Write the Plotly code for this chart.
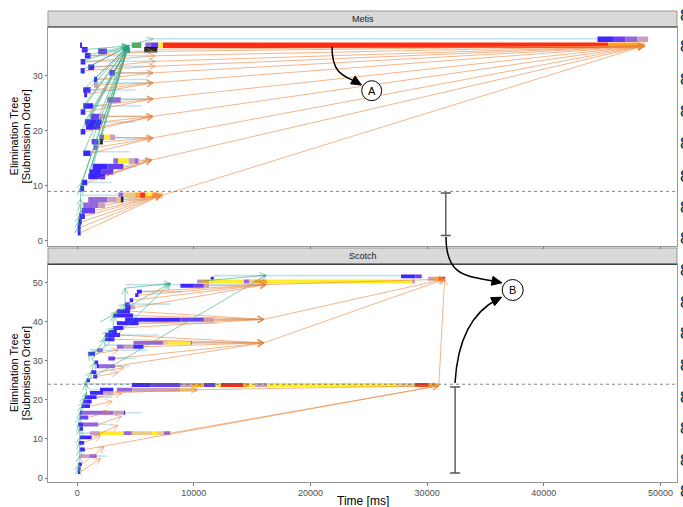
import math
import plotly.graph_objects as go

FONT = "Liberation Sans, Arial, sans-serif"

# ---------------------------------------------------------------- data
X_TICKS = [0, 10000, 20000, 30000, 40000, 50000]
Y_TICKS_METIS = [0, 10, 20, 30]
Y_TICKS_SCOTCH = [0, 10, 20, 30, 40, 50]

# fill colour for each activity level of a task tile
LEVEL_COLORS = ["#2d14ff", "#5b30ee", "#8c5ada", "#c497b4", "#e7c67f",
                "#ffea1c", "#ff9d0a", "#ff1a00", "#46a84f", "#111111"]

# Metis tasks: (tree node, start ms, end ms, level)
metis_tiles = [
    (36.6, 44600, 46000, 0), (36.6, 46000, 47000, 1), (36.6, 47000, 48000, 2), (36.6, 48000, 48950, 3),
    (35.5, 4690, 5500, 8), (35.5, 5840, 6300, 2), (35.5, 6300, 6960, 1), (35.5, 6960, 7360, 5),
    (35.5, 7360, 45500, 7), (35.5, 45500, 48000, 6), (35.5, 48000, 48700, 4),
    (34.7, 5750, 6870, 9),
    (35.5, 250, 420, 0), (34.7, 400, 900, 0), (34.4, 1800, 2560, 1), (33.6, 660, 1150, 0),
    (32.5, 300, 700, 0), (31.5, 950, 1460, 0), (30.9, 300, 650, 0), (30.5, 2760, 3250, 1),
    (29.3, 1440, 1720, 0), (28.3, 1440, 1800, 3), (27.4, 520, 1150, 0), (26.6, 600, 850, 0),
    (25.6, 2590, 3740, 2), (24.5, 520, 1380, 0), (23.4, 300, 700, 0),
    (22.6, 1150, 1900, 1), (22.6, 1900, 2390, 3), (21.6, 660, 2100, 0), (20.7, 750, 1960, 0),
    (19.8, 300, 700, 0), (18.8, 1900, 2300, 2), (18.8, 2300, 2800, 5), (18.8, 2800, 3250, 3),
    (18.0, 1240, 1810, 1), (18.0, 1950, 2200, 9), (17.0, 1400, 1750, 2), (15.9, 520, 1150, 0),
    (14.5, 3100, 3500, 2), (14.5, 3500, 4400, 5), (14.5, 4400, 4900, 3), (14.5, 4900, 5260, 2),
    (13.5, 1330, 2600, 0), (13.5, 2600, 3970, 1), (12.5, 1030, 2100, 0), (12.5, 2100, 3100, 1),
    (11.7, 950, 2390, 0), (10.6, 380, 860, 0), (9.5, 250, 600, 0),
    (8.3, 3540, 3970, 2), (8.3, 3970, 4970, 4), (8.3, 4970, 5400, 6), (8.3, 5400, 5840, 7),
    (8.3, 5840, 6410, 5), (8.3, 6410, 6900, 6), (8.3, 6900, 7360, 4),
    (7.5, 950, 2600, 2), (7.5, 2600, 3400, 3), (7.5, 3400, 3800, 4), (7.5, 3750, 3970, 9),
    (6.5, 520, 1800, 2), (6.5, 1800, 2390, 3), (5.5, 380, 1530, 1),
    (4.5, 170, 660, 0), (3.5, 100, 400, 0), (2.5, 50, 300, 0), (1.5, 50, 300, 0),
]

# Metis idle spans: (tree node, from ms, to ms)
metis_waits = [
    (36.7, 6500, 44600), (34.4, 2560, 6500), (33.6, 1150, 6700), (32.6, 700, 6700),
    (31.7, 1460, 6700), (30.5, 3250, 6500), (29.3, 1720, 6000), (28.7, 1800, 6500),
    (27.4, 1150, 5000), (25.8, 3740, 6500), (24.5, 1380, 5500), (22.6, 2390, 6500),
    (21.6, 2100, 5000), (18.7, 3250, 6500), (16.2, 1150, 4500), (14.7, 5260, 6400),
    (13.5, 3970, 5000), (10.6, 860, 3000), (8.3, 300, 3540), (7.5, 3970, 6000),
]

# Metis data dependencies: (from ms, from node, to ms, to node)
metis_deps = [
    (6500, 34.4, 48600, 35.4), (6700, 33.6, 48600, 35.4), (6700, 32.6, 48600, 35.4),
    (6700, 31.7, 48600, 35.4), (6500, 30.5, 48600, 35.4), (6500, 28.7, 48600, 35.4),
    (6500, 25.8, 48600, 35.4), (6500, 22.6, 48600, 35.4), (6500, 18.7, 48600, 35.4),
    (6400, 14.7, 48600, 35.4), (7300, 8.3, 48600, 35.4), (6900, 34.8, 48600, 35.4),
    (1150, 33.6, 6500, 34.4), (700, 32.5, 6700, 33.6), (1460, 31.5, 6700, 32.6),
    (650, 30.9, 6700, 31.7), (3250, 30.5, 6500, 30.5), (1720, 29.3, 6500, 30.5),
    (1800, 28.3, 6500, 28.7), (1150, 27.4, 6500, 28.7), (850, 26.6, 6500, 28.7),
    (3740, 25.6, 6500, 25.8), (1380, 24.5, 6500, 25.8), (700, 23.4, 6500, 25.8),
    (2390, 22.6, 6500, 22.6), (2100, 21.6, 6500, 22.6), (1960, 20.7, 6500, 22.6), (700, 19.8, 6500, 22.6),
    (3250, 18.8, 6500, 18.7), (2200, 18.0, 6500, 18.7), (1750, 17.0, 6500, 18.7), (1150, 15.9, 6500, 18.7),
    (5260, 14.5, 6400, 14.7), (3970, 13.5, 6400, 14.7), (3100, 12.5, 6400, 14.7),
    (2390, 11.7, 6400, 14.7), (860, 10.6, 6400, 14.7),
    (3970, 7.5, 7200, 8.3), (2390, 6.5, 7200, 8.3), (1530, 5.5, 7200, 8.3), (660, 4.5, 7200, 8.3),
    (400, 3.5, 7200, 8.3), (300, 2.5, 7200, 8.3), (300, 1.5, 7200, 8.3),
]

# Metis submission order links: (from ms, from node, to ms, to node)
metis_subs = [
    (400, 34.7, 4400, 35.4), (660, 33.6, 4400, 35.4), (300, 32.5, 4400, 35.4), (950, 31.5, 4400, 35.4),
    (300, 30.9, 4400, 35.4), (1440, 29.3, 4400, 35.4), (520, 27.4, 4400, 35.4), (600, 26.6, 4400, 35.4),
    (520, 24.5, 4400, 35.4), (300, 23.4, 4400, 35.4), (1150, 22.6, 4400, 35.4), (660, 21.6, 4400, 35.4),
    (750, 20.7, 4400, 35.4), (300, 19.8, 4400, 35.4), (1240, 18.0, 4400, 35.4), (520, 15.9, 4400, 35.4),
    (1330, 13.5, 4400, 35.4), (1030, 12.5, 4400, 35.4), (950, 11.7, 4400, 35.4), (380, 10.6, 4400, 35.4),
    (250, 9.5, 4400, 35.4), (4400, 35.4, 6500, 36.7),
    (50, 1.5, 50, 2.5), (50, 2.5, 100, 3.5), (100, 3.5, 170, 4.5), (170, 4.5, 300, 5.5),
    (300, 5.5, 250, 6.6), (250, 6.6, 300, 7.6), (300, 7.6, 250, 9.5), (250, 9.5, 380, 10.6),
]

# Scotch tasks: (tree node, start ms, end ms, level)
scotch_tiles = [
    (51.6, 27760, 29000, 0), (51.6, 29000, 29540, 1),
    (51.0, 30060, 30500, 3), (51.0, 30500, 31000, 6), (51.0, 31000, 31550, 7),
    (50.3, 10290, 10720, 3), (50.3, 10720, 11300, 6), (50.3, 11300, 14300, 5), (50.3, 14300, 14740, 2),
    (50.3, 14740, 15170, 4), (50.3, 15170, 16270, 6), (50.3, 16270, 28680, 5), (50.3, 28680, 28970, 3),
    (51.0, 11440, 11720, 0),
    (49.2, 8850, 10000, 0), (49.2, 10000, 10860, 1), (49.2, 10860, 11300, 3),
    (47.7, 5120, 5550, 0), (46.8, 4970, 5260, 0), (45.5, 4500, 4800, 0), (44.5, 4100, 4500, 1),
    (43.7, 4110, 4600, 0), (43.7, 4600, 4970, 3), (42.7, 3400, 4540, 0), (41.6, 3100, 4800, 0),
    (40.5, 4110, 8850, 0), (40.5, 8850, 10860, 1), (40.5, 10860, 11720, 3),
    (39.6, 3400, 5260, 0), (38.4, 3100, 3970, 0), (37.4, 2700, 3400, 0), (36.6, 2400, 3680, 0),
    (35.5, 2400, 3200, 0),
    (34.6, 4830, 7410, 2), (34.6, 7410, 7840, 4), (34.6, 7840, 9720, 5), (34.6, 9720, 9860, 2),
    (33.6, 3400, 4000, 2), (33.6, 4000, 4800, 3), (33.6, 4800, 5690, 0),
    (32.7, 1700, 2200, 2), (31.8, 950, 1530, 0), (30.6, 2670, 3250, 1), (29.6, 1500, 1800, 0),
    (28.6, 1670, 1900, 0), (28.6, 1900, 3250, 2), (27.1, 1200, 1650, 0), (26.0, 1380, 1720, 0),
    (25.0, 800, 1100, 0),
    (23.8, 4690, 6300, 0), (23.8, 6300, 8850, 1), (23.8, 8850, 9860, 3), (23.8, 9860, 10860, 6),
    (23.8, 10860, 11870, 1), (23.8, 11870, 12300, 5), (23.8, 12300, 14260, 7), (23.8, 14260, 14750, 6),
    (23.8, 14750, 15230, 5), (23.8, 15230, 16270, 3), (23.8, 16270, 27530, 5), (23.8, 27530, 28970, 4),
    (23.8, 28970, 30120, 7), (23.8, 30120, 30750, 6), (23.8, 30750, 31000, 5),
    (22.6, 1960, 3100, 0), (22.6, 3400, 4700, 2), (22.6, 4700, 8800, 3), (22.6, 8800, 10290, 4),
    (21.8, 1100, 2240, 0), (21.8, 2240, 3100, 3), (20.7, 660, 1670, 0), (19.6, 520, 1240, 0),
    (18.4, 380, 1100, 0),
    (16.7, 230, 400, 0), (16.7, 400, 3100, 2), (16.7, 3100, 3970, 3), (16.7, 3970, 4110, 0),
    (15.5, 230, 950, 1), (13.7, 90, 500, 0), (13.7, 500, 1810, 2), (12.6, 200, 500, 0),
    (11.5, 1100, 1960, 3), (11.5, 1960, 3970, 5), (11.5, 3970, 4690, 2), (11.5, 4690, 6410, 4),
    (11.5, 6410, 6840, 5), (11.5, 6840, 7410, 4), (11.5, 7410, 7990, 2),
    (10.4, 230, 1240, 0), (9.0, 150, 600, 0), (7.3, 230, 660, 0),
    (5.6, 230, 1100, 3), (5.6, 1100, 1670, 2), (3.5, 100, 400, 0), (2.4, 50, 300, 1), (1.5, 50, 250, 0),
]

# Scotch idle spans: (tree node, from ms, to ms)
scotch_waits = [
    (51.8, 11720, 27760), (49.5, 4110, 8850), (49.5, 11300, 16200), (47.7, 5550, 9000),
    (44.5, 4500, 8000), (40.6, 11720, 16000), (39.6, 5260, 12000), (36.6, 3680, 7000),
    (34.6, 9860, 16000), (34.0, 2400, 4830), (32.7, 2200, 6000), (30.6, 3250, 5000),
    (28.6, 3250, 4500), (24.1, 700, 4690), (22.6, 1100, 1960), (20.7, 1670, 3000),
    (16.7, 4110, 5500), (13.7, 1810, 3000), (11.5, 230, 1100), (5.6, 1670, 2500),
]

# Scotch data dependencies: (from ms, from node, to ms, to node)
scotch_deps = [
    (16200, 49.5, 31500, 50.9), (16000, 40.6, 31500, 50.9), (16000, 34.6, 31500, 50.9),
    (31000, 23.8, 31500, 50.9),
    (11300, 49.2, 16200, 49.5), (5550, 47.7, 16200, 49.5), (5260, 46.8, 16200, 49.5),
    (4970, 43.7, 16200, 49.5), (4800, 45.5, 16200, 49.5),
    (11720, 40.5, 16000, 40.6), (5260, 39.6, 16000, 40.6), (4800, 41.6, 16000, 40.6),
    (4540, 42.7, 16000, 40.6), (3970, 38.4, 16000, 40.6),
    (9860, 34.6, 16000, 34.6), (5690, 33.6, 16000, 34.6), (3250, 30.6, 16000, 34.6),
    (3250, 28.6, 16000, 34.6), (3680, 36.6, 16000, 34.6), (3200, 35.5, 16000, 34.6),
    (10290, 22.6, 31000, 23.6), (8000, 11.5, 31000, 23.6), (660, 7.3, 31000, 23.6), (3100, 21.8, 10290, 22.6),
    (250, 1.5, 2000, 5.0), (400, 3.5, 2300, 8.0), (600, 9.0, 2000, 10.8), (1240, 10.4, 3500, 13.5),
    (1810, 13.7, 3800, 15.8), (950, 15.5, 2800, 17.0), (1100, 18.4, 3000, 19.6), (1670, 20.7, 3800, 21.6),
    (1650, 27.1, 4000, 28.2), (1530, 31.8, 3500, 32.7), (1720, 26.0, 3500, 27.0),
]

# Scotch submission order links: (from ms, from node, to ms, to node)
scotch_subs = [
    (100, 1.5, 100, 2.4), (100, 2.4, 150, 3.5), (150, 3.5, 200, 5.6), (200, 5.6, 230, 7.3),
    (230, 7.3, 150, 9.0), (150, 9.0, 230, 10.4), (230, 10.4, 200, 12.6), (200, 12.6, 90, 13.7),
    (90, 13.7, 230, 15.5), (230, 15.5, 230, 16.7), (230, 16.7, 380, 18.4), (380, 18.4, 520, 19.6),
    (520, 19.6, 660, 20.7), (660, 20.7, 800, 21.8), (800, 21.8, 700, 24.2), (700, 24.2, 800, 25.0),
    (800, 25.0, 1200, 27.1), (1200, 27.1, 1500, 29.6), (1500, 29.6, 950, 31.8), (950, 31.8, 1700, 32.7),
    (1700, 32.7, 2400, 35.5), (2400, 35.5, 2400, 36.6), (2400, 36.6, 2700, 37.4), (2700, 37.4, 3100, 38.4),
    (3100, 38.4, 3100, 41.6), (3100, 41.6, 3400, 42.7), (3400, 42.7, 4110, 44.5), (4110, 44.5, 4110, 48.6),
    (4110, 48.6, 7990, 49.8), (10290, 50.3, 16200, 51.9), (900, 25.0, 16200, 51.9),
    (1300, 30.5, 7990, 49.8), (2000, 40.0, 7990, 49.8),
]

# separator between tree levels, and spread of the lower subtree
metis_split = 9
scotch_split = 24
metis_spread = (31600, 1.0, 8.7)
scotch_spread = (32400, 1.3, 23.3)

# ---------------------------------------------------------------- geometry
ML, MR, MT, MB = 48, 6, 11, 25
W, H = 683, 507
PW, PH = W - ML - MR, H - MT - MB
X_RANGE = [-2500, 51420]
METIS_DOMAIN = [0.5015, 0.966]
SCOTCH_DOMAIN = [0.0, 0.4622]
METIS_RANGE = [-0.87, 38.82]
SCOTCH_RANGE = [-1.02, 54.7]
TILE_H = 1.0
CAP = 430
HEAD_LEN = 7.0
HEAD_ANGLE = math.radians(28)

X_SCALE = PW / (X_RANGE[1] - X_RANGE[0])


def y_scale(domain, rng):
    return PH * (domain[1] - domain[0]) / (rng[1] - rng[0])


def px(x):
    return (x - ML) / PW


def py(y):
    return (H - MB - y) / PH


def tile_traces(tiles, xa, ya):
    groups = {}
    for row, t0, t1, lvl in tiles:
        xs, ys = groups.setdefault(lvl, ([], []))
        lo, hi = row - TILE_H / 2, row + TILE_H / 2
        xs += [t0, t1, t1, t0, t0, None]
        ys += [lo, lo, hi, hi, lo, None]
    out = []
    for lvl in sorted(groups):
        xs, ys = groups[lvl]
        out.append(go.Scatter(x=xs, y=ys, xaxis=xa, yaxis=ya, mode="lines", fill="toself",
                              fillcolor=LEVEL_COLORS[lvl], line=dict(width=0), opacity=0.92,
                              hoverinfo="skip", showlegend=False))
    return out


def wait_trace(waits, xa, ya):
    xs, ys = [], []
    for row, t0, t1 in waits:
        xs += [t0, t1, None]
        ys += [row, row, None]
    return go.Scatter(x=xs, y=ys, xaxis=xa, yaxis=ya, mode="lines",
                      line=dict(color="rgba(173,216,230,0.75)", width=1.6),
                      hoverinfo="skip", showlegend=False)


def arrow_trace(edges, color, xa, ya, ys_scale):
    """Edges with open chevron heads; head wings are sized in screen pixels."""
    xs, ys = [], []
    for t0, r0, t1, r1 in edges:
        xs += [t0, t1, None]
        ys += [r0, r1, None]
        dx = (t1 - t0) * X_SCALE
        dy = (r1 - r0) * ys_scale
        n = math.hypot(dx, dy)
        if n == 0:
            continue
        ux, uy = dx / n, dy / n
        wings = []
        for s in (1, -1):
            c, si = math.cos(s * HEAD_ANGLE), math.sin(s * HEAD_ANGLE)
            wx = -(ux * c - uy * si) * HEAD_LEN
            wy = -(ux * si + uy * c) * HEAD_LEN
            wings.append((t1 + wx / X_SCALE, r1 + wy / ys_scale))
        xs += [wings[0][0], t1, wings[1][0], None]
        ys += [wings[0][1], r1, wings[1][1], None]
    return go.Scatter(x=xs, y=ys, xaxis=xa, yaxis=ya, mode="lines",
                      line=dict(color=color, width=0.75),
                      hoverinfo="skip", showlegend=False)


def spread_trace(spread, xa, ya):
    x, lo, hi = spread
    xs = [x, x, None, x - CAP, x + CAP, None, x - CAP, x + CAP]
    ys = [lo, hi, None, lo, lo, None, hi, hi]
    return go.Scatter(x=xs, y=ys, xaxis=xa, yaxis=ya, mode="lines",
                      line=dict(color="#555555", width=1.4), hoverinfo="skip", showlegend=False)


ORANGE = "rgba(236,132,62,0.8)"
GREEN = "rgba(40,165,125,0.75)"

fig = go.Figure()
for tiles, waits, deps, subs, spread, xa, ya, dom, rng in [
    (metis_tiles, metis_waits, metis_deps, metis_subs, metis_spread, "x2", "y2",
     METIS_DOMAIN, METIS_RANGE),
    (scotch_tiles, scotch_waits, scotch_deps, scotch_subs, scotch_spread, "x", "y",
     SCOTCH_DOMAIN, SCOTCH_RANGE),
]:
    ysc = y_scale(dom, rng)
    fig.add_trace(wait_trace(waits, xa, ya))
    for tr in tile_traces(tiles, xa, ya):
        fig.add_trace(tr)
    fig.add_trace(arrow_trace(subs, GREEN, xa, ya, ysc))
    fig.add_trace(arrow_trace(deps, ORANGE, xa, ya, ysc))
    fig.add_trace(spread_trace(spread, xa, ya))

shapes = []
for split, yref in [(metis_split, "y2"), (scotch_split, "y")]:
    shapes.append(dict(type="line", xref="paper", yref=yref, x0=0, x1=1, y0=split, y1=split,
                       line=dict(color="#555555", width=0.7, dash="3px,3px")))

# facet strips
for y0, y1 in [(METIS_DOMAIN[1], 1.0), (SCOTCH_DOMAIN[1], py(248))]:
    shapes.append(dict(type="rect", xref="paper", yref="paper", x0=0, x1=1, y0=y0, y1=y1,
                       fillcolor="#d9d9d9", line=dict(color="#999999", width=1), layer="below"))
    shapes.append(dict(type="line", xref="paper", yref="paper", x0=0, x1=1, y0=y0, y1=y0,
                       line=dict(color="#444444", width=1.2)))


def curve(p0, c1, c2, p3):
    path = "M {},{} C {},{} {},{} {},{}".format(px(p0[0]), py(p0[1]), px(c1[0]), py(c1[1]),
                                                 px(c2[0]), py(c2[1]), px(p3[0]), py(p3[1]))
    shapes.append(dict(type="path", xref="paper", yref="paper", path=path,
                       line=dict(color="black", width=1.5)))
    dx, dy = p3[0] - c2[0], p3[1] - c2[1]
    n = (dx * dx + dy * dy) ** 0.5
    ux, uy = dx / n, dy / n
    tip = (p3[0] + ux * 4, p3[1] + uy * 4)
    base = (tip[0] - ux * 10, tip[1] - uy * 10)
    a = (base[0] - uy * 4.5, base[1] + ux * 4.5)
    b = (base[0] + uy * 4.5, base[1] - ux * 4.5)
    tri = "M {},{} L {},{} L {},{} Z".format(px(tip[0]), py(tip[1]), px(a[0]), py(a[1]),
                                             px(b[0]), py(b[1]))
    shapes.append(dict(type="path", xref="paper", yref="paper", path=tri,
                       fillcolor="black", line=dict(color="black", width=1)))


curve((332, 47), (332, 76), (346, 76), (358, 83))
curve((446, 237), (446, 278), (468, 276), (498, 282))
curve((455, 383), (458, 330), (478, 309), (498, 299))

annotations = []
for label, cx, cy, r in [("A", 371.7, 90.7, 10), ("B", 512.7, 290, 10.5)]:
    shapes.append(dict(type="circle", xref="paper", yref="paper",
                       x0=px(cx - r), x1=px(cx + r), y0=py(cy + r), y1=py(cy - r),
                       fillcolor="white", line=dict(color="black", width=1)))
    annotations.append(dict(text=label, x=px(cx), y=py(cy), xref="paper", yref="paper",
                            xanchor="center", yanchor="middle", showarrow=False,
                            font=dict(size=11, color="black", family=FONT)))

annotations += [
    dict(text="Metis", x=0.5, y=(METIS_DOMAIN[1] + 1) / 2, xref="paper", yref="paper",
         xanchor="center", yanchor="middle", showarrow=False,
         font=dict(size=9, color="#1a1a1a", family=FONT)),
    dict(text="Scotch", x=0.5, y=(SCOTCH_DOMAIN[1] + py(248)) / 2, xref="paper", yref="paper",
         xanchor="center", yanchor="middle", showarrow=False,
         font=dict(size=9, color="#1a1a1a", family=FONT)),
    dict(text="Time [ms]", x=0.5, y=py(501), xref="paper", yref="paper",
         xanchor="center", yanchor="middle", showarrow=False,
         font=dict(size=12, color="black", family=FONT)),
]
for dom in (METIS_DOMAIN, SCOTCH_DOMAIN):
    for text, xpix in [("Elimination Tree", 14), ("[Submission Order]", 26)]:
        annotations.append(dict(text=text, textangle=-90,
                                x=px(xpix), y=(dom[0] + dom[1]) / 2, xref="paper", yref="paper",
                                xanchor="center", yanchor="middle", showarrow=False,
                                font=dict(size=11, color="black", family=FONT)))

# glyph column at the right page edge
for yy in [15, 47, 80, 112, 143, 176, 207, 238, 270, 302, 333, 365, 397, 428, 460, 491]:
    annotations.append(dict(text="8", x=px(678), y=py(yy), xref="paper", yref="paper",
                            xanchor="left", yanchor="middle", showarrow=False,
                            font=dict(size=17, color="#222222", family=FONT)))

axis_common = dict(showgrid=False, zeroline=False, showline=True, linecolor="#999999",
                   linewidth=1, mirror=True, ticks="outside", ticklen=2.5, tickcolor="#777777",
                   tickfont=dict(size=9, color="#4d4d4d", family=FONT))

fig.update_layout(
    width=W, height=H, margin=dict(l=ML, r=MR, t=MT, b=MB, pad=0),
    plot_bgcolor="white", paper_bgcolor="white", showlegend=False,
    font=dict(family=FONT),
    xaxis=dict(domain=[0, 1], anchor="y", range=X_RANGE, tickvals=X_TICKS,
               ticktext=[str(v) for v in X_TICKS], **axis_common),
    xaxis2=dict(domain=[0, 1], anchor="y2", range=X_RANGE, tickvals=X_TICKS,
                showticklabels=False, matches="x", **axis_common),
    yaxis=dict(domain=SCOTCH_DOMAIN, anchor="x", range=SCOTCH_RANGE, tickvals=Y_TICKS_SCOTCH,
               **axis_common),
    yaxis2=dict(domain=METIS_DOMAIN, anchor="x2", range=METIS_RANGE, tickvals=Y_TICKS_METIS,
                **axis_common),
    shapes=shapes, annotations=annotations,
)

fig.write_html("out.html")
